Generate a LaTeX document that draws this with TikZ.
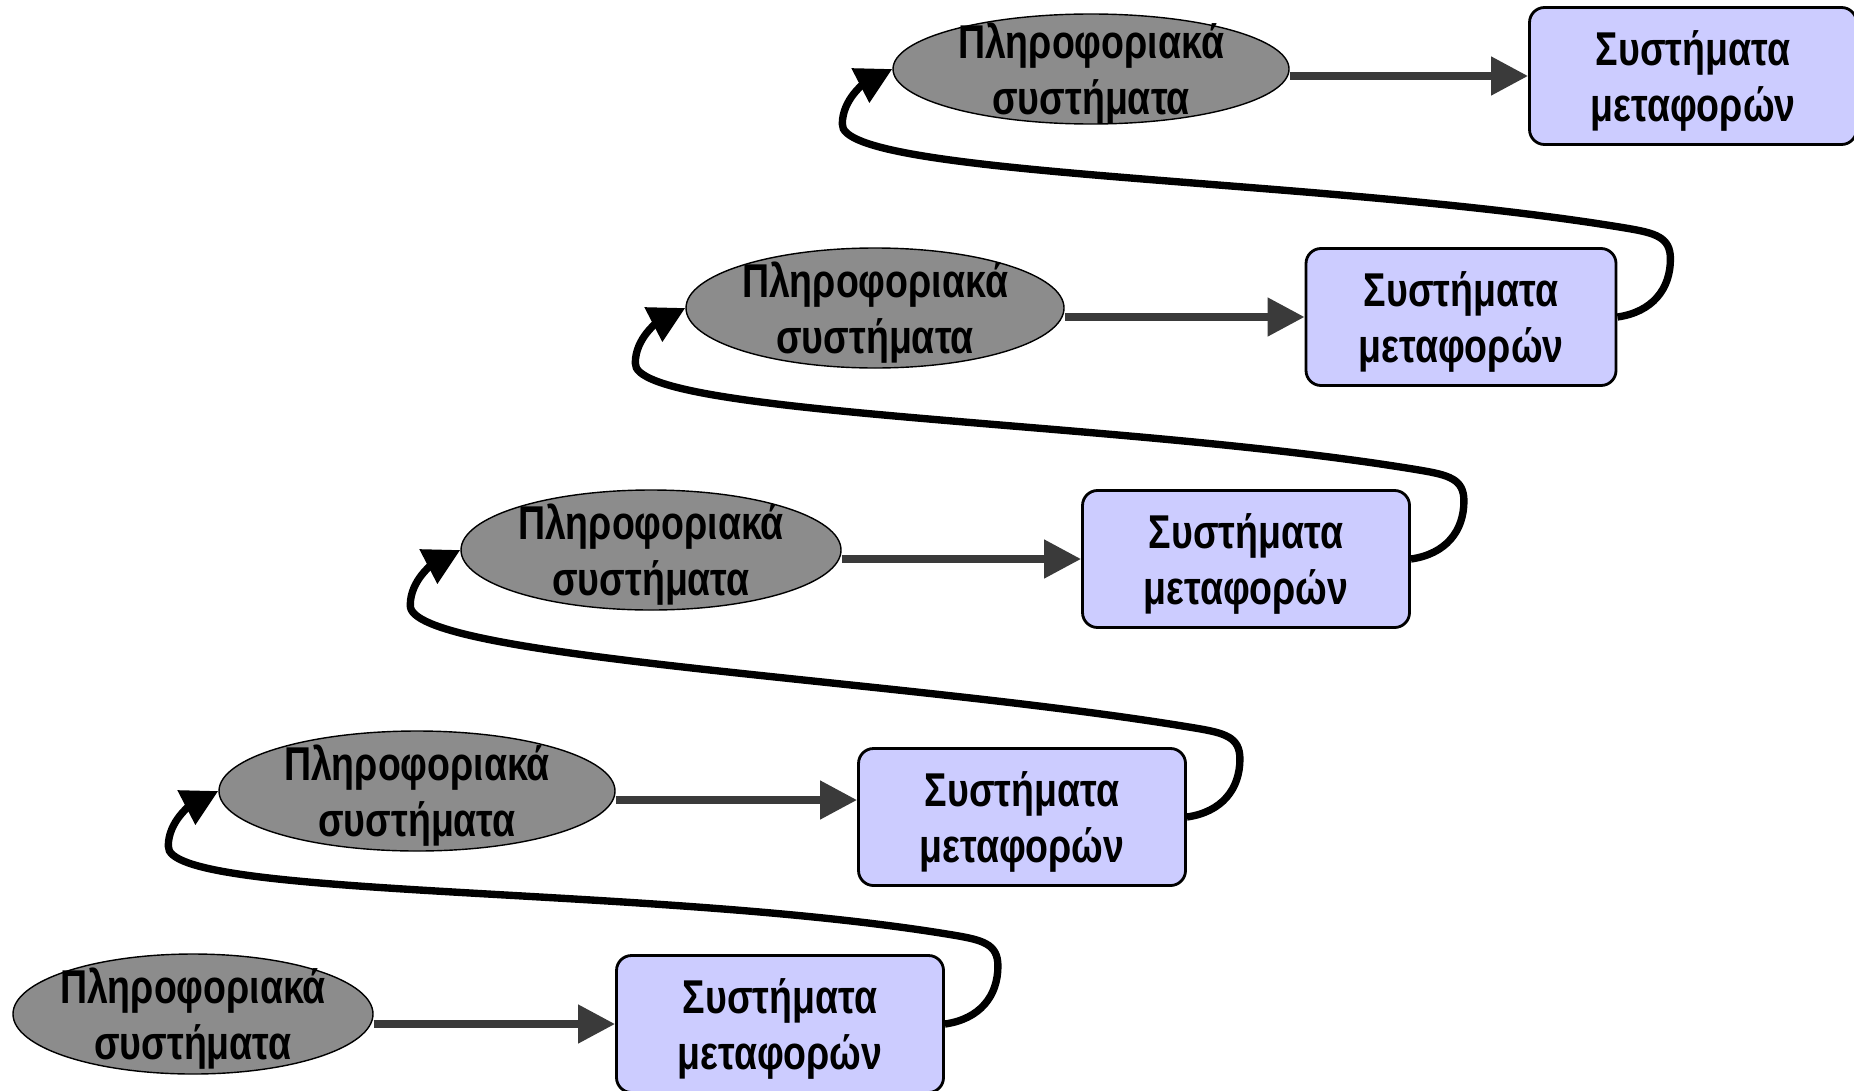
\documentclass[tikz,border=0pt]{standalone}
\usepackage{fontspec}
\setmainfont{Liberation Sans}[FakeStretch=0.79]
\usetikzlibrary{arrows.meta,shapes.geometric,calc}
\definecolor{boxblue}{RGB}{204,204,255}
\definecolor{infogray}{RGB}{140,140,140}
\definecolor{arrowgray}{RGB}{58,58,58}
\begin{document}
\begin{tikzpicture}[
    font=\bfseries\fontsize{13.5}{15.9}\selectfont,
    infosys/.style ={ellipse, draw, fill=infogray, align=center, text depth=0pt,
        inner xsep=-0.5cm, inner ysep=-0.2cm,
        minimum width=3.8cm, minimum height=1.2cm},
    transport/.style ={rectangle, rounded corners=0.15cm, draw, line width=0.8pt,
        fill=boxblue, align=center, text depth=0pt,
        minimum width=3.27cm, minimum height=1.37cm},
    flow/.style ={-{Triangle[length=0.37cm,width=0.37cm]}, line width=2.2pt, arrowgray},
    feedback/.style ={-{Triangle[length=0.36cm,width=0.37cm]}, line width=2.1pt}]
   \useasboundingbox (0,0) rectangle (18.54,10.90);

   \node[infosys,minimum width=3.6cm] (I1) at (1.93,0.76) {Πληροφοριακά\\συστήματα};
   \node[infosys,minimum width=3.96cm] (I2) at (4.17,2.99) {Πληροφοριακά\\συστήματα};
   \node[infosys] (I3) at (6.51,5.40) {Πληροφοριακά\\συστήματα};
   \node[infosys,minimum width=3.78cm] (I4) at (8.75,7.82) {Πληροφοριακά\\συστήματα};
   \node[infosys,minimum width=3.96cm,minimum height=1.1cm] (I5) at (10.91,10.21) {Πληροφοριακά\\συστήματα};

   \node[transport] (T1) at (7.80,0.66) {Συστήματα\\μεταφορών};
   \node[transport] (T2) at (10.22,2.73) {Συστήματα\\μεταφορών};
   \node[transport] (T3) at (12.46,5.31) {Συστήματα\\μεταφορών};
   \node[transport,minimum width=3.1cm] (T4) at (14.61,7.73) {Συστήματα\\μεταφορών};
   \node[transport] (T5) at (16.93,10.14) {Συστήματα\\μεταφορών};

   \draw[flow] (I1.east |- T1.west) -- (T1.west);
   \draw[flow] ([yshift=-0.9mm]I2.east) -- ([yshift=-0.9mm]I2.east -| T2.west);
   \draw[flow] (I3.east |- T3.west) -- (T3.west);
   \draw[flow] (I4.east |- T4.west) -- (T4.west);
   \draw[flow] (I5.east |- T5.west) -- (T5.west);

   % back from each transport box to the next row
   \draw[feedback] (T1.east) .. controls +(0.35,0.05) and +(0,-0.3) .. ++(0.53,0.58)
      .. controls +(0,0.22) and +(0.3,-0.05) .. ++(-0.45,0.31)
      .. controls +(-3,0.5) and +(-0.04,-0.53) .. ($(I2.west)+(-0.5,-0.55)$)
      .. controls +(0,0.25) and +(-0.27,-0.14) .. (I2.west);
   \draw[feedback] (T2.east) .. controls +(0.35,0.05) and +(0,-0.3) .. ++(0.53,0.58)
      .. controls +(0,0.22) and +(0.3,-0.05) .. ++(-0.45,0.31)
      .. controls +(-3,0.5) and +(-0.04,-0.53) .. ($(I3.west)+(-0.5,-0.55)$)
      .. controls +(0,0.25) and +(-0.27,-0.14) .. (I3.west);
   \draw[feedback] (T3.east) .. controls +(0.35,0.05) and +(0,-0.3) .. ++(0.53,0.58)
      .. controls +(0,0.22) and +(0.3,-0.05) .. ++(-0.45,0.31)
      .. controls +(-3,0.5) and +(-0.04,-0.53) .. ($(I4.west)+(-0.5,-0.55)$)
      .. controls +(0,0.25) and +(-0.27,-0.14) .. (I4.west);
   \draw[feedback] (T4.east) .. controls +(0.35,0.05) and +(0,-0.3) .. ++(0.53,0.58)
      .. controls +(0,0.22) and +(0.3,-0.05) .. ++(-0.45,0.31)
      .. controls +(-3,0.5) and +(-0.04,-0.53) .. ($(I5.west)+(-0.5,-0.55)$)
      .. controls +(0,0.25) and +(-0.27,-0.14) .. (I5.west);
\end{tikzpicture}
\end{document}
